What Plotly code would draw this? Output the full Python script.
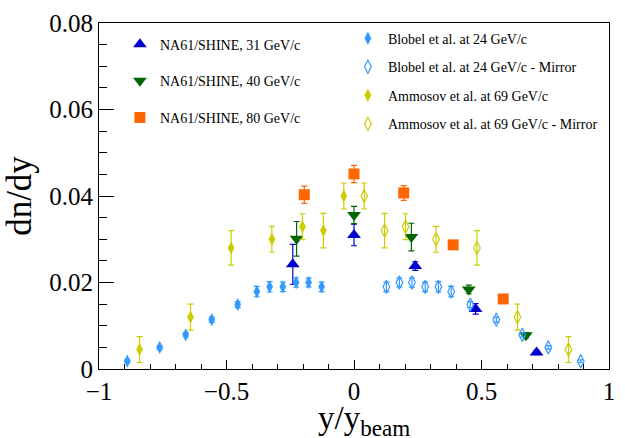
import plotly.graph_objects as go

# ---------------- data ----------------
na31_x = [-0.240, 0.000, 0.240, 0.477, 0.716]
na31_y = [0.0242, 0.0310, 0.0238, 0.0139, 0.0038]
na31_e = [0.0046, 0.0025, 0.0010, 0.0012, 0.0005]

na40_x = [-0.225, 0.000, 0.225, 0.450, 0.674]
na40_y = [0.0301, 0.0356, 0.0305, 0.0184, 0.0078]
na40_e = [0.0040, 0.0020, 0.0032, 0.0010, 0.0006]

na80_x = [-0.195, 0.000, 0.195, 0.389, 0.585]
na80_y = [0.0403, 0.0451, 0.0407, 0.0287, 0.0162]
na80_e = [0.0020, 0.0020, 0.0017, 0.0008, 0.0006]

blobel_x = [-0.889, -0.762, -0.660, -0.558, -0.456, -0.381, -0.331, -0.279, -0.227, -0.178, -0.127]
blobel_y = [0.0018, 0.0050, 0.0079, 0.0114, 0.0149, 0.0179, 0.0190, 0.0190, 0.0200, 0.0200, 0.0190]
blobel_e = [0.0003, 0.0004, 0.0005, 0.0006, 0.0007, 0.0012, 0.0012, 0.0011, 0.0011, 0.0010, 0.0011]
blobel_mirror_x = [-v for v in blobel_x]

ammosov_x = [-0.841, -0.641, -0.482, -0.322, -0.202, -0.120, -0.040]
ammosov_y = [0.0045, 0.0120, 0.0280, 0.0300, 0.0329, 0.0320, 0.0400]
ammosov_e = [0.0030, 0.0030, 0.0040, 0.0030, 0.0030, 0.0040, 0.0030]
ammosov_mirror_x = [-v for v in ammosov_x]

x_ticks = [-1, -0.5, 0, 0.5, 1]
x_ticklabels = ["\u22121", "\u22120.5", "0", "0.5", "1"]
y_ticks = [0, 0.02, 0.04, 0.06, 0.08]
y_ticklabels = ["0", "0.02", "0.04", "0.06", "0.08"]

# ---------------- style ----------------
FONT = "Liberation Serif"
C_BLUE = "rgb(0,0,204)"
C_GREEN = "rgb(0,102,0)"
C_ORANGE = "rgb(255,102,0)"
C_AZURE = "rgb(51,153,255)"
C_YELLOW = "rgb(204,204,0)"

fig = go.Figure()


def add(x, y, e, name, symbol, color, size, legend, filled=True):
    fig.add_trace(go.Scatter(
        x=x, y=y, mode="markers", name=name,
        legend=legend, legendgroup=name,
        marker=dict(symbol=symbol, size=size, color=color,
                    line=dict(color=color, width=0 if filled else 1.2)),
        error_y=dict(type="data", array=e, color=color, thickness=1.2, width=3),
    ))


add(na31_x, na31_y, na31_e, "NA61/SHINE, 31 GeV/c", "triangle-up", C_BLUE, 12, "legend")
add(na40_x, na40_y, na40_e, "NA61/SHINE, 40 GeV/c", "triangle-down", C_GREEN, 12, "legend")
add(na80_x, na80_y, na80_e, "NA61/SHINE, 80 GeV/c", "square", C_ORANGE, 11, "legend")
add(blobel_x, blobel_y, blobel_e, "Blobel et al. at 24 GeV/c", "diamond-tall", C_AZURE, 9.5, "legend2")
add(blobel_mirror_x, blobel_y, blobel_e, "Blobel et al. at 24 GeV/c - Mirror", "diamond-tall-open", C_AZURE, 9.5, "legend2", filled=False)
add(ammosov_x, ammosov_y, ammosov_e, "Ammosov et al. at 69 GeV/c", "diamond-tall", C_YELLOW, 9.5, "legend2")
add(ammosov_mirror_x, ammosov_y, ammosov_e, "Ammosov et al. at 69 GeV/c - Mirror", "diamond-tall-open", C_YELLOW, 9.5, "legend2", filled=False)

axis_common = dict(
    showline=True, linecolor="black", linewidth=1.2, mirror=True,
    ticks="inside", tickcolor="black", tickwidth=1,
    showgrid=False, zeroline=False,
    tickfont=dict(family=FONT, size=25, color="black"),
)

fig.update_layout(
    width=625, height=438,
    margin=dict(l=99, r=10, t=19, b=69),
    paper_bgcolor="white", plot_bgcolor="white",
    font=dict(family=FONT, color="black"),
    xaxis=dict(range=[-1, 1], tickvals=x_ticks, ticktext=x_ticklabels,
               ticklen=9,
               minor=dict(dtick=0.1, ticks="inside", ticklen=5, tickcolor="black", showgrid=False),
               **axis_common),
    yaxis=dict(range=[0, 0.08], tickvals=y_ticks, ticktext=y_ticklabels,
               ticklen=15,
               minor=dict(dtick=0.005, ticks="inside", ticklen=8, tickcolor="black", showgrid=False),
               title=dict(text="dn/dy", font=dict(family=FONT, size=35), standoff=8),
               **axis_common),
    legend=dict(x=0.041, y=0.984, xanchor="left", yanchor="top",
                bgcolor="rgba(0,0,0,0)", borderwidth=0,
                font=dict(family=FONT, size=14, color="black"),
                tracegroupgap=15.5, traceorder="grouped"),
    legend2=dict(x=0.488, y=1.001, xanchor="left", yanchor="top",
                 bgcolor="rgba(0,0,0,0)", borderwidth=0,
                 font=dict(family=FONT, size=14, color="black"),
                 tracegroupgap=7.3, traceorder="grouped"),
    showlegend=True,
    annotations=[dict(text="y/y<sub>beam</sub>", xref="paper", yref="paper",
                      x=0.52, y=-0.083, xanchor="center", yanchor="top",
                      showarrow=False, font=dict(family=FONT, size=33, color="black"))],
)

fig.write_html("out.html")
